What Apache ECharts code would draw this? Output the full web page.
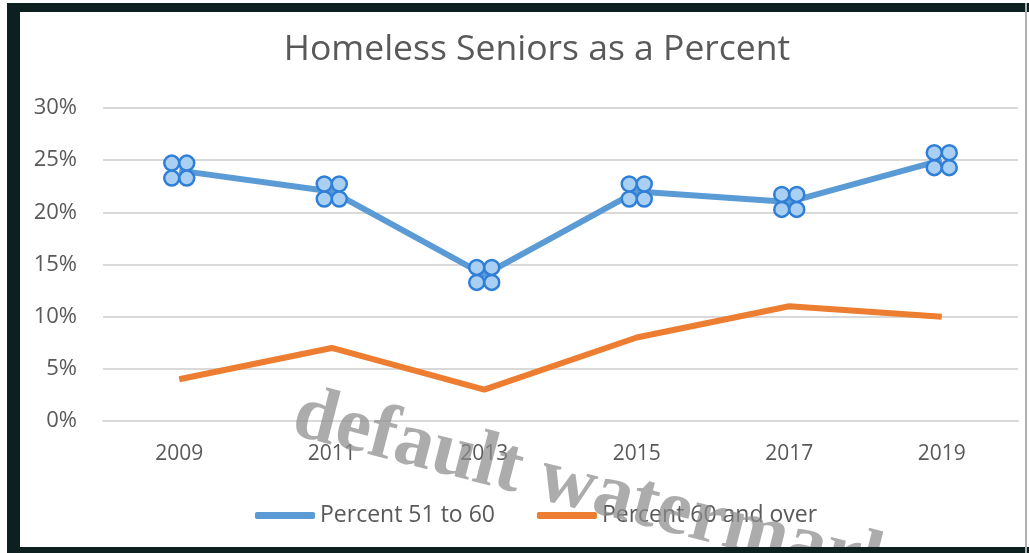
<!DOCTYPE html>
<html>
<head>
<meta charset="utf-8">
<style>html,body{margin:0;padding:0;background:#fff;}#c{width:1029px;height:553px;}</style>
<script src="https://cdn.jsdelivr.net/npm/echarts@6/dist/echarts.min.js"></script>
</head>
<body>
<div id="c"></div>
<script>
var years = ['2009', '2011', '2013', '2015', '2017', '2019'];
var pct51to60 = [24, 22, 14, 22, 21, 25];
var pct60over = [4, 7, 3, 8, 11, 10];
var yTicks = [0, 5, 10, 15, 20, 25, 30];

var clover = 'path://M0,6a6,6 0 1,0 12,0a6,6 0 1,0 -12,0Z M12,6a6,6 0 1,0 12,0a6,6 0 1,0 -12,0Z M0,18a6,6 0 1,0 12,0a6,6 0 1,0 -12,0Z M12,18a6,6 0 1,0 12,0a6,6 0 1,0 -12,0Z';

var chart = echarts.init(document.getElementById('c'));
chart.setOption({
  animation: false,
  backgroundColor: '#fff',
  title: {
    text: 'Homeless Seniors as a Percent',
    left: 532, top: 27, textAlign: 'center',
    textStyle: {fontFamily: 'Open Sans', fontSize: 35.5, fontWeight: 'normal', color: '#595959'}
  },
  grid: {left: 103, right: 11, top: 108, bottom: 132},
  xAxis: {
    type: 'category', data: years, boundaryGap: true,
    axisLine: {show: true, lineStyle: {color: '#d9d9d9', width: 2}},
    axisTick: {show: false},
    axisLabel: {fontFamily: 'Open Sans', fontSize: 21, color: '#595959', margin: 23}
  },
  yAxis: {
    type: 'value', min: yTicks[0], max: yTicks[yTicks.length - 1], interval: 5,
    axisLine: {show: false}, axisTick: {show: false},
    splitLine: {lineStyle: {color: '#d9d9d9', width: 2}},
    axisLabel: {fontFamily: 'Open Sans', fontSize: 22, color: '#595959', margin: 26,
      formatter: function (v) { return v + '%'; }}
  },
  legend: {
    top: 499, left: 250, itemGap: 42, itemWidth: 60, itemHeight: 7,
    textStyle: {fontFamily: 'Open Sans', fontSize: 23, color: '#595959'},
    data: [
      {name: 'Percent 51 to 60', icon: 'roundRect', itemStyle: {color: '#5b9bd5', borderWidth: 0}},
      {name: 'Percent 60 and over', icon: 'roundRect', itemStyle: {color: '#ed7d31', borderWidth: 0}}
    ]
  },
  series: [
    {
      name: 'Percent 51 to 60', type: 'line', data: pct51to60,
      lineStyle: {color: '#5b9bd5', width: 6},
      itemStyle: {color: '#a9cff2', borderColor: '#2f7fd8', borderWidth: 2.5},
      symbol: clover, symbolSize: 30, showSymbol: true, z: 3
    },
    {
      name: 'Percent 60 and over', type: 'line', data: pct60over,
      lineStyle: {color: '#ed7d31', width: 6},
      itemStyle: {color: '#ed7d31'},
      symbol: 'none', z: 2
    }
  ],
  graphic: [
    {type: 'rect', shape: {x: 7, y: 3, width: 13, height: 550}, style: {fill: '#0d2020'}, z: 100},
    {type: 'rect', shape: {x: 7, y: 3, width: 1022, height: 9}, style: {fill: '#0d2020'}, z: 100},
    {type: 'rect', shape: {x: 7, y: 547, width: 1022, height: 6}, style: {fill: '#0d2020'}, z: 100},
    {type: 'rect', shape: {x: 1025, y: 3, width: 2, height: 550}, style: {fill: '#b0b0b0'}, z: 100},
    {type: 'text', x: 285, y: 452, rotation: -14.5 * Math.PI / 180, z: 90,
      style: {text: 'default watermark', fontFamily: 'Liberation Serif', fontWeight: 'bold', fontSize: 78,
        fill: 'rgba(140,140,140,0.72)', textAlign: 'left', textVerticalAlign: 'bottom'}}
  ]
});
</script>
</body>
</html>
